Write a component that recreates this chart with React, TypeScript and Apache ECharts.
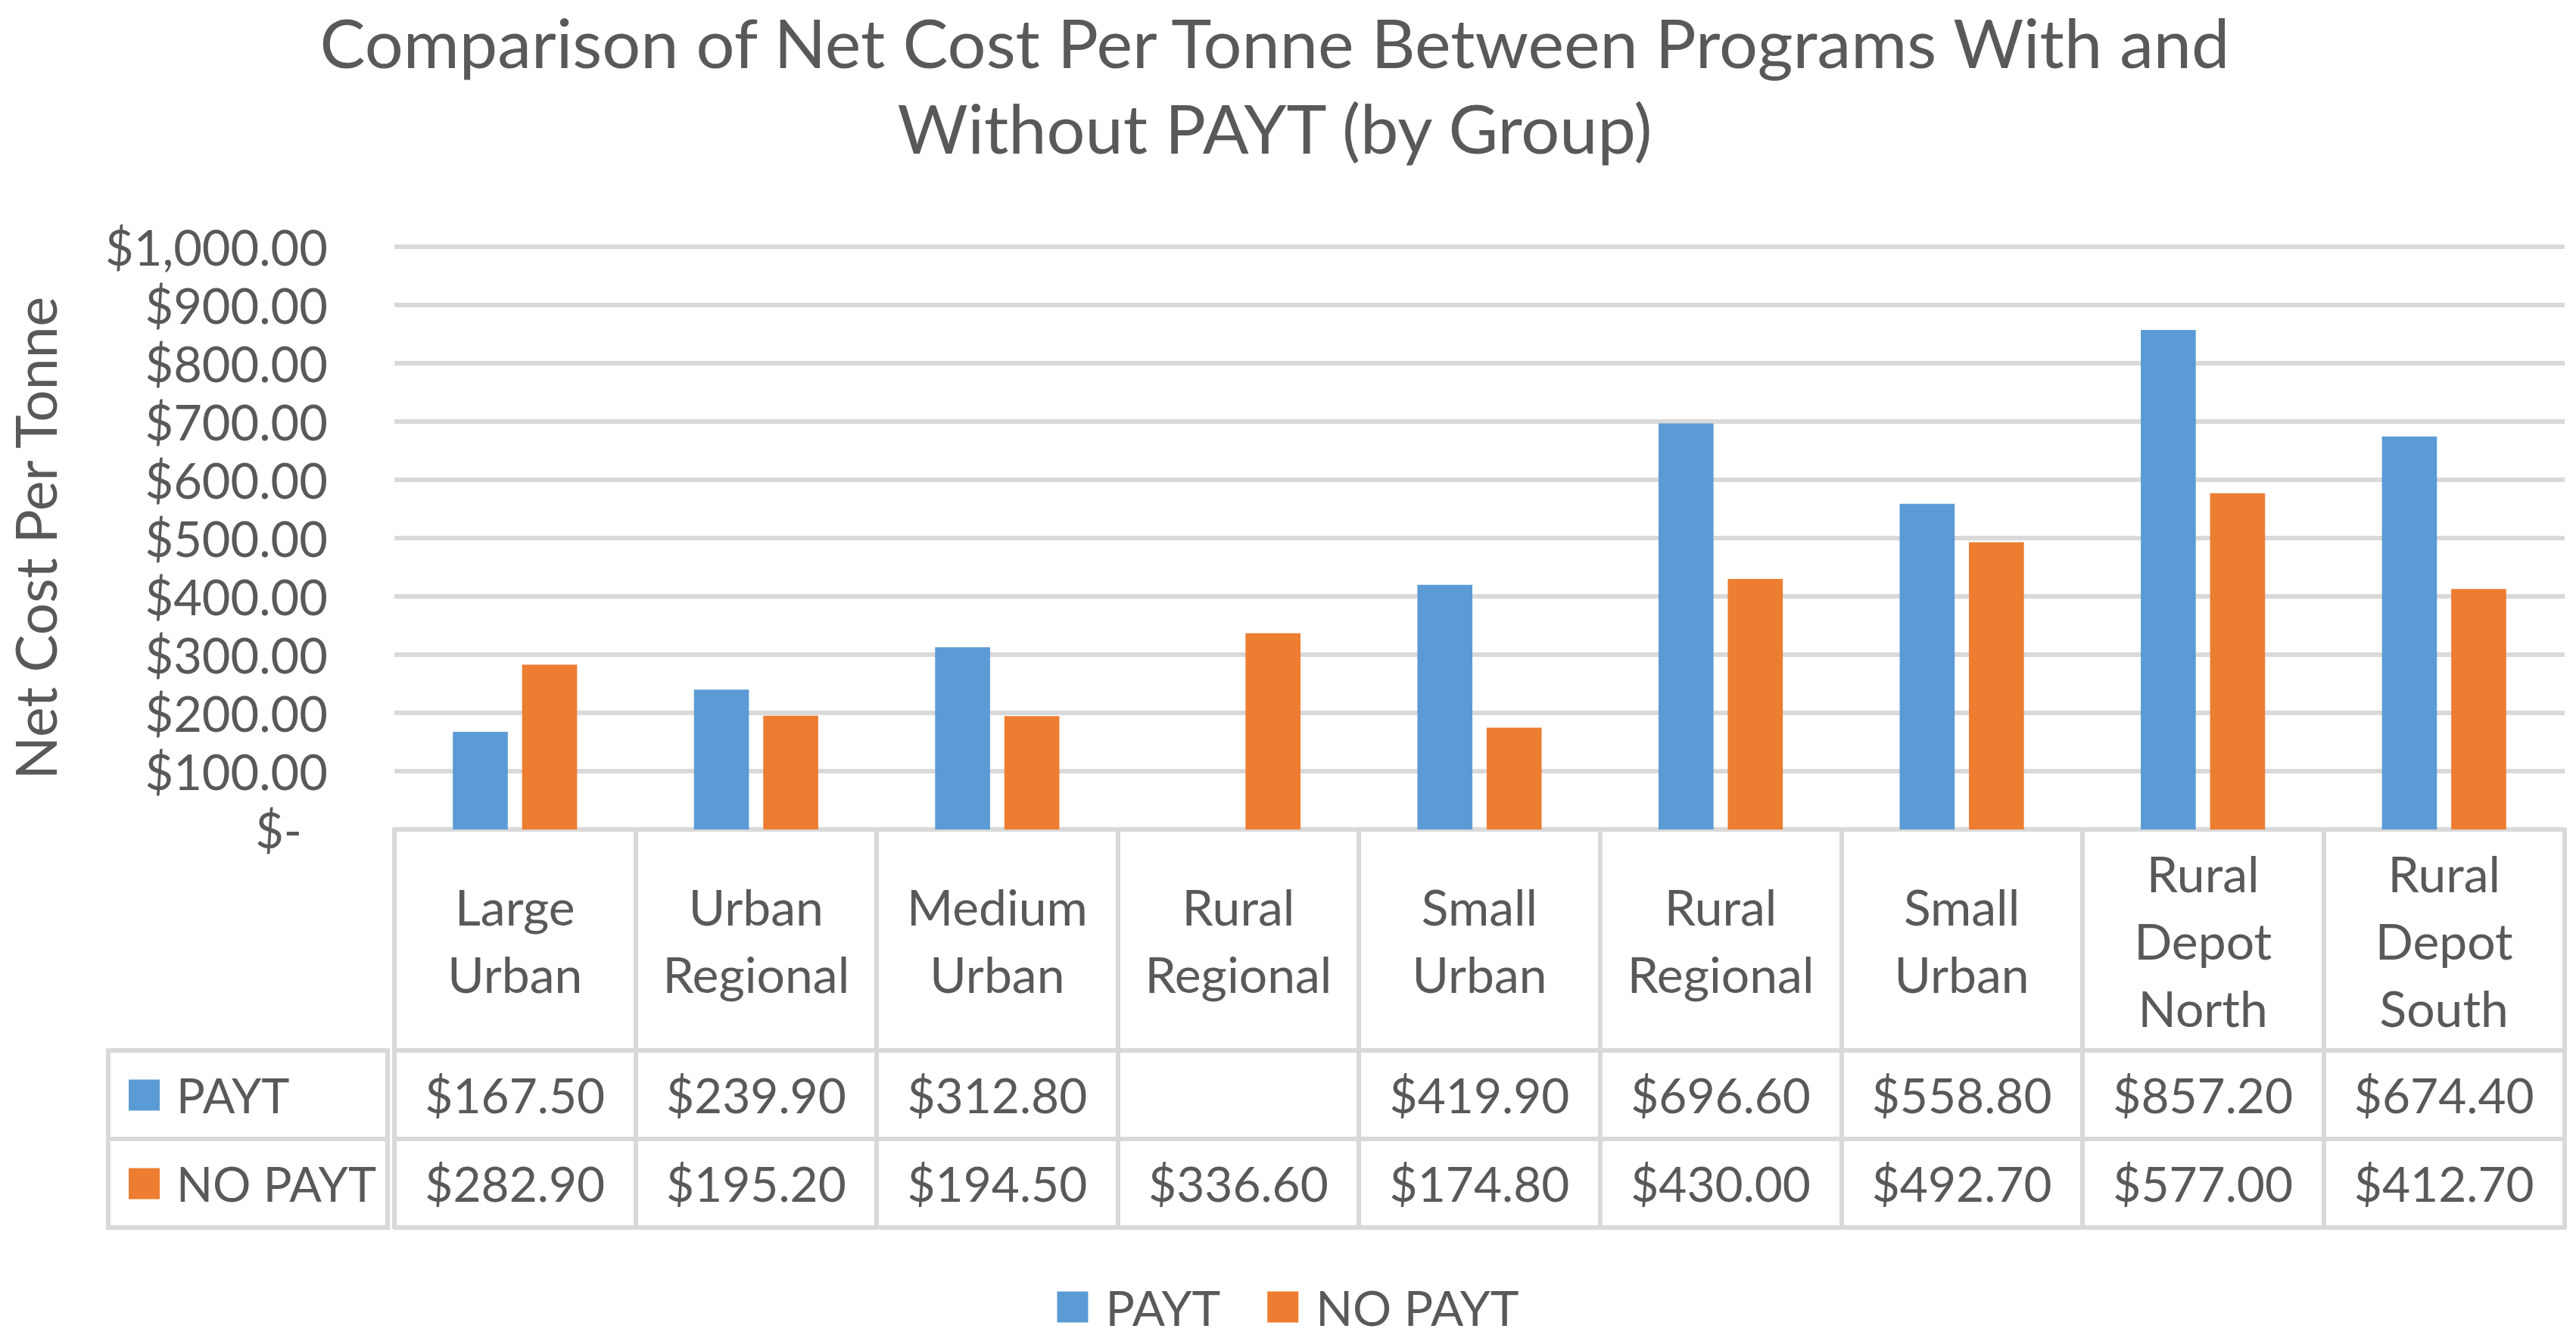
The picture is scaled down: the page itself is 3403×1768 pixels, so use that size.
import React, { useEffect, useRef } from "react";
import * as echarts from "echarts";

const categories = [
  "Large Urban",
  "Urban Regional",
  "Medium Urban",
  "Rural Regional",
  "Small Urban",
  "Rural Regional",
  "Small Urban",
  "Rural Depot North",
  "Rural Depot South",
];
const seriesNames = ["PAYT", "NO PAYT"];
const paytValues: (number | null)[] = [167.5, 239.9, 312.8, null, 419.9, 696.6, 558.8, 857.2, 674.4];
const noPaytValues: (number | null)[] = [282.9, 195.2, 194.5, 336.6, 174.8, 430.0, 492.7, 577.0, 412.7];
const yMin = 0;
const yMax = 1000;
const yInterval = 100;
const titleLines = ["Comparison of Net Cost Per Tonne Between Programs With and", "Without PAYT (by Group)"];
const yAxisName = "Net Cost Per Tonne";

const BLUE = "#5B9BD5";
const ORANGE = "#ED7D31";
const TEXT = "#595959";
const LINE = "#D9D9D9";
const FONT = "Lato";

const W = 3403;
const H = 1768;
const GRID_LEFT = 512;
const GRID_RIGHT_EDGE = 3388;
const GRID_TOP = 326;
const GRID_BOTTOM_Y = 1096;
const HEADER_H = 292;
const ROW_H = 117;
const TABLE_LEFT = 143;
const LW = 6;

const fmtMoney = (v: number | null) =>
  v == null ? "" : "$" + v.toLocaleString("en-US", { minimumFractionDigits: 2, maximumFractionDigits: 2 });

export default function App() {
  const ref = useRef<HTMLDivElement>(null);
  useEffect(() => {
    if (!ref.current) return;
    const chart = echarts.init(ref.current, null, { renderer: "svg", width: W, height: H });
    const row1Y = GRID_BOTTOM_Y + HEADER_H;
    const row2Y = row1Y + ROW_H;
    const row3Y = row2Y + ROW_H;
    const colors = [BLUE, ORANGE];
    const rowCenters = [row1Y + ROW_H / 2, row2Y + ROW_H / 2];

    const rowAxis = (offset: number, values: (number | null)[] | null) => ({
      type: "category",
      gridIndex: 0,
      position: "bottom",
      offset,
      data: categories,
      boundaryGap: true,
      axisLine: { show: true, lineStyle: { color: LINE, width: LW } },
      axisTick: values
        ? { show: true, interval: 0, length: ROW_H, lineStyle: { color: LINE, width: LW } }
        : { show: false },
      axisLabel: values
        ? {
            show: true,
            interval: 0,
            margin: ROW_H / 2,
            verticalAlign: "middle",
            color: TEXT,
            fontFamily: FONT,
            fontSize: 64,
            formatter: (_v: string, i: number) => fmtMoney(values[i]),
          }
        : { show: false },
      splitLine: { show: false },
    });

    const titleStyle = {
      color: TEXT,
      fontFamily: FONT,
      fontWeight: "normal",
      fontSize: 90,
      lineHeight: 110,
    };

    const option: any = {
      animation: false,
      backgroundColor: "#ffffff",
      textStyle: { fontFamily: FONT },
      title: {
        text: titleLines[0],
        subtext: titleLines[1],
        left: 1684,
        top: 0,
        padding: 0,
        itemGap: 3,
        textAlign: "center",
        textStyle: titleStyle,
        subtextStyle: titleStyle,
      },
      legend: {
        data: seriesNames,
        left: "center",
        top: 1690,
        icon: "rect",
        itemWidth: 41,
        itemHeight: 41,
        itemGap: 62,
        textStyle: { color: TEXT, fontFamily: FONT, fontSize: 64, padding: [0, 0, 0, 18] },
      },
      grid: {
        left: GRID_LEFT,
        right: W - GRID_RIGHT_EDGE,
        top: GRID_TOP,
        bottom: H - GRID_BOTTOM_Y,
        containLabel: false,
      },
      xAxis: [
        {
          type: "category",
          data: categories,
          boundaryGap: true,
          axisLine: { show: true, lineStyle: { color: LINE, width: LW } },
          axisTick: { show: true, interval: 0, length: HEADER_H, lineStyle: { color: LINE, width: LW } },
          axisLabel: {
            show: true,
            interval: 0,
            margin: HEADER_H / 2,
            verticalAlign: "middle",
            align: "center",
            color: TEXT,
            fontFamily: FONT,
            fontSize: 66,
            lineHeight: 89,
            formatter: (v: string) => v.split(" ").join("\n"),
          },
          splitLine: { show: false },
        },
        rowAxis(HEADER_H, paytValues),
        rowAxis(HEADER_H + ROW_H, noPaytValues),
        rowAxis(HEADER_H + 2 * ROW_H, null),
      ],
      yAxis: {
        type: "value",
        min: yMin,
        max: yMax,
        interval: yInterval,
        name: yAxisName,
        nameLocation: "middle",
        nameRotate: 90,
        nameGap: 438,
        nameTextStyle: { color: TEXT, fontFamily: FONT, fontSize: 75 },
        axisLine: { show: false },
        axisTick: { show: false },
        axisLabel: {
          margin: 88,
          color: TEXT,
          fontFamily: FONT,
          fontSize: 65,
          formatter: (v: number) => (v === 0 ? "{z|$-}" : fmtMoney(v)),
          rich: {
            z: { color: TEXT, fontFamily: FONT, fontSize: 65, padding: [0, 34, 0, 0] },
          },
        },
        splitLine: { show: true, lineStyle: { color: LINE, width: LW } },
      },
      series: [
        {
          name: seriesNames[0],
          type: "bar",
          xAxisIndex: 0,
          data: paytValues,
          itemStyle: { color: BLUE },
          barWidth: "22.8%",
          barGap: "26%",
        },
        {
          name: seriesNames[1],
          type: "bar",
          xAxisIndex: 0,
          data: noPaytValues,
          itemStyle: { color: ORANGE },
          barWidth: "22.8%",
          barGap: "26%",
        },
      ],
      graphic: [
        {
          type: "rect",
          shape: { x: TABLE_LEFT, y: row1Y, width: GRID_LEFT - TABLE_LEFT, height: row3Y - row1Y },
          style: { fill: "none", stroke: LINE, lineWidth: LW },
        },
        {
          type: "line",
          shape: { x1: TABLE_LEFT, y1: row2Y, x2: GRID_LEFT, y2: row2Y },
          style: { stroke: LINE, lineWidth: LW },
        },
        ...seriesNames.flatMap((name, i) => [
          {
            type: "rect",
            shape: { x: 170, y: rowCenters[i] - 20, width: 41, height: 41 },
            style: { fill: colors[i] },
          },
          {
            type: "text",
            x: 233,
            y: rowCenters[i],
            style: {
              text: name,
              fill: TEXT,
              font: `63px ${FONT}`,
              verticalAlign: "middle",
              align: "left",
            },
          },
        ]),
      ],
    };
    chart.setOption(option);
    return () => chart.dispose();
  }, []);
  return (
    <div
      ref={ref}
      style={{ position: "fixed", left: 0, top: 0, width: W, height: H, background: "#fff" }}
    />
  );
}
